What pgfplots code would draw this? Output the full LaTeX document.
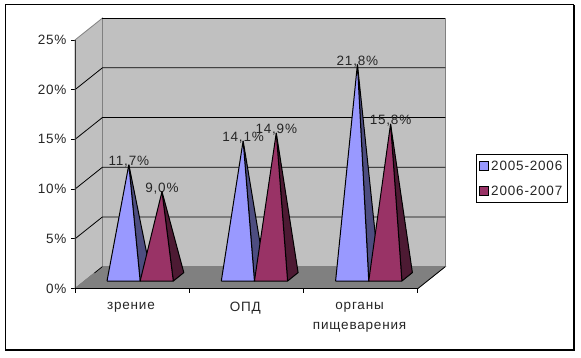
\documentclass[border=0pt]{standalone}
\usepackage{pgfplots}
\pgfplotsset{compat=1.18}
\usepackage{fontspec}
\setmainfont[LetterSpace=6]{Liberation Sans}
\definecolor{wallc}{HTML}{C0C0C0}
\definecolor{floorc}{HTML}{808080}
\definecolor{bluef}{HTML}{9999FF}
\definecolor{blued}{HTML}{4D4D80}
\definecolor{marf}{HTML}{993366}
\definecolor{mard}{HTML}{4D1A33}
% #1 left edge of front base (category units), #2 value in per cent, #3 front colour, #4 side colour
\newcommand\pyr[4]{%
  \pgfmathsetmacro\xr{#1+0.29}%
  \pgfmathsetmacro\xb{#1+0.29+0.092}%
  \pgfmathsetmacro\xa{#1+0.145+0.046}%
  \pgfmathsetmacro\ya{#2+0.75}%
  \addplot[forget plot,fill=#4,draw=black,line width=1bp,line join=bevel] coordinates {(\xr,0.75) (\xb,1.6) (\xa,\ya) (\xr,0.75)};
  \addplot[forget plot,fill=#3,draw=black,line width=1bp,line join=bevel] coordinates {(#1,0.75) (\xr,0.75) (\xa,\ya) (#1,0.75)};
}
% #1 left edge, #2 value, #3 text
\newcommand\lab[3]{%
  \pgfmathsetmacro\xa{#1+0.145+0.046}%
  \pgfmathsetmacro\ya{#2+0.75}%
  \pgfmathsetmacro\yb{#2+1.05}%
  \addplot[forget plot,draw=none] coordinates {(\xa,\ya) (\xa,\yb)} node[pos=1,anchor=center,inner sep=0pt,font=\fontsize{13.5bp}{15bp}\selectfont,text=black!85] {#3};
}
\begin{document}
\begin{tikzpicture}[x=1bp,y=1bp]
\useasboundingbox (0,0) rectangle (581,357);
\fill[white] (0,0) rectangle (581,357);
\draw[black,line width=1bp] (5.5,7) -- (5.5,352) -- (574,352);
\draw[black,line width=2bp] (574,352) -- (574,7);
\draw[black,line width=1.6bp] (574.9,7) -- (5,7);
\begin{axis}[
  at={(75bp,68.5bp)},anchor=south west,
  scale only axis,width=370.3bp,height=270.4bp,
  xmin=0,xmax=3.24,ymin=0,ymax=27.2,
  clip=false,
  axis line style={draw=none},
  xtick={0,1,2,3},xticklabels={},
  extra x ticks={0.49,1.49,2.49},
  extra x tick labels={зрение,ОПД,{органы\\пищеварения}},
  extra x tick style={major tick length=0pt,
    xticklabel style={yshift=-10bp}},
  xtick pos=bottom,ytick pos=left,
  ytick={0,5,10,15,20,25},
  yticklabels={0\%,5\%,10\%,15\%,20\%,25\%},
  tick align=outside,major tick length=4bp,
  tick style={black,line width=0.8bp},
  tick label style={font=\fontsize{13.5bp}{20bp}\selectfont,text=black!85},
  xticklabel style={align=center,anchor=north,text depth=0pt},
  yticklabel style={xshift=-1bp},
  legend style={at={(1.083,0.496)},anchor=north west,draw=black,line width=0.8bp,
    font=\fontsize{13.5bp}{15bp}\selectfont,text=black!85,
    inner xsep=3bp,inner ysep=4bp,row sep=10bp,cells={anchor=west},
    /tikz/every even column/.append style={column sep=3bp}},
  legend cell align=left,
  legend image code/.code={\draw[#1,line width=0.8bp] (0,-4.5bp) rectangle (9bp,4.5bp);},
]
% walls and floor
\addplot[forget plot,fill=wallc,draw=floorc,line width=0.8bp] coordinates {(0,0) (0.24,2.2) (0.24,27.2) (0,25) (0,0)};
\addplot[forget plot,fill=wallc,draw=floorc,line width=0.8bp] coordinates {(0.24,2.2) (3.24,2.2) (3.24,27.2) (0.24,27.2) (0.24,2.2)};
\addplot[forget plot,fill=floorc,draw=floorc,line width=0.8bp] coordinates {(0,0) (3,0) (3.24,2.2) (0.24,2.2) (0,0)};
% gridlines
\addplot[forget plot,black,line width=0.8bp] coordinates {(0,5) (0.24,7.2) (3.24,7.2)};
\addplot[forget plot,black,line width=0.8bp] coordinates {(0,10) (0.24,12.2) (3.24,12.2)};
\addplot[forget plot,black,line width=0.8bp] coordinates {(0,15) (0.24,17.2) (3.24,17.2)};
\addplot[forget plot,black,line width=0.8bp] coordinates {(0,20) (0.24,22.2) (3.24,22.2)};
\addplot[forget plot,black,line width=0.8bp] coordinates {(0.24,27.2) (3.24,27.2)};
\addplot[forget plot,black,line width=0.6bp] coordinates {(0.17,1.55) (0.24,2.2)};
% axes
\addplot[forget plot,black!80,line width=0.8bp] coordinates {(0,25) (0,0)};
\addplot[forget plot,black,line width=0.8bp] coordinates {(0,0) (3,0) (3.24,2.2)};
% data labels
\lab{0.28}{11.7}{11,7\%}
\lab{0.57}{9.0}{9,0\%}
\lab{1.28}{14.1}{14,1\%}
\lab{1.57}{14.9}{14,9\%}
\lab{2.28}{21.8}{21,8\%}
\lab{2.57}{15.8}{15,8\%}
% pyramids
\pyr{0.28}{11.7}{bluef}{blued}
\pyr{0.57}{9.0}{marf}{mard}
\pyr{1.28}{14.1}{bluef}{blued}
\pyr{1.57}{14.9}{marf}{mard}
\pyr{2.28}{21.8}{bluef}{blued}
\pyr{2.57}{15.8}{marf}{mard}
\addlegendimage{fill=bluef,draw=black}
\addlegendentry{2005-2006}
\addlegendimage{fill=marf,draw=black}
\addlegendentry{2006-2007}
\end{axis}
\end{tikzpicture}
\end{document}
